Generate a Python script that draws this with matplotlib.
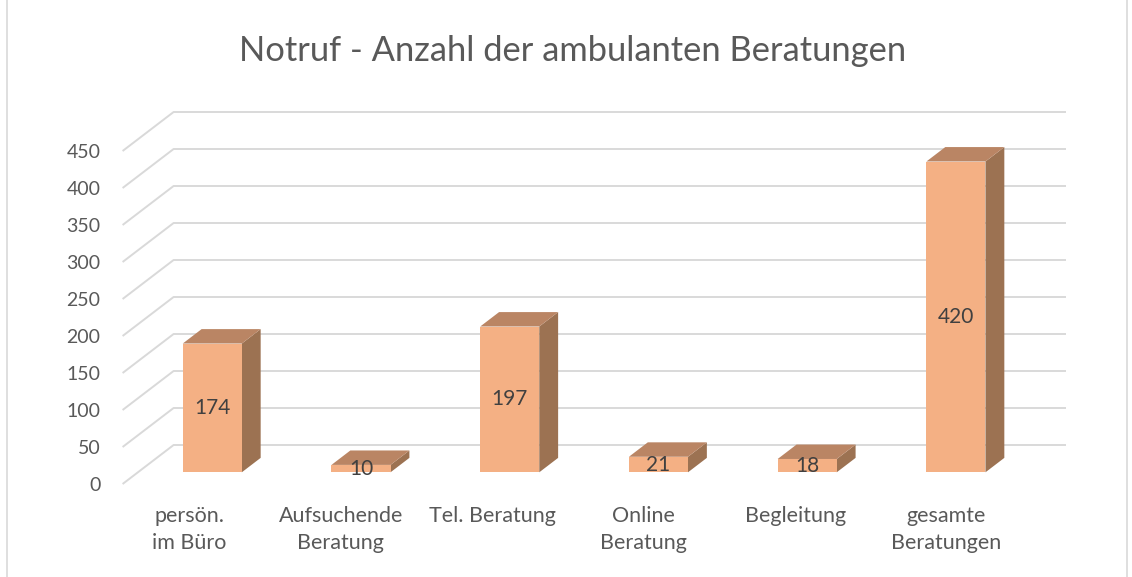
import matplotlib
matplotlib.use("Agg")
import matplotlib.pyplot as plt
from matplotlib.patches import Polygon, Rectangle

plt.rcParams["font.family"] = ["Lato", "DejaVu Sans"]

TITLE = "Notruf - Anzahl der ambulanten Beratungen"
categories = ["persön.\nim Büro", "Aufsuchende\nBeratung", "Tel. Beratung",
              "Online\nBeratung", "Begleitung", "gesamte\nBeratungen"]
values = [174, 10, 197, 21, 18, 420]
yticks = list(range(0, 451, 50))

FRONT = "#F4B084"
TOP = "#BA8564"
SIDE = "#9C7252"
GRID = "#D9D9D9"
TXT = "#595959"

W, H = 1132, 577
fig = plt.figure(figsize=(W / 100, H / 100), dpi=100)
# axes = front plane of the 3D box (pixel layout of the reference)
L, R, B, T = 122.6, 1015.0, 484.0, 151.0
ax = fig.add_axes([L / W, 1 - B / H, (R - L) / W, (B - T) / H])
ax.set_xlim(-0.5, len(values) - 0.5)
ax.set_ylim(0, 450)
ax.axis("off")

# depth of the floor/back wall, in data units
DX = 51 / ((R - L) / len(values))
DY = 39 / ((B - T) / 450)

# gridlines: diagonal on the side wall + horizontal on the back wall
for v in yticks:
    ax.plot([-0.5, -0.5 + DX, len(values) - 0.5 + DX], [v, v + DY, v + DY],
            color=GRID, lw=1.4, clip_on=False, zorder=1, solid_capstyle="butt")
    ax.text(-0.5 - 0.15, v - 2, str(v), ha="right", va="center",
            fontsize=14, color=TXT)

# bars as prisms
bw = 0.397
f0 = 0.30  # depth of the bar front face
d = 0.37   # bar depth fraction
lab_step = 151.4 / ((R - L) / len(values))
for i, v in enumerate(values):
    x0 = i - bw / 2 + f0 * DX
    x1 = i + bw / 2 + f0 * DX
    y0 = f0 * DY
    y1 = v + f0 * DY
    ddx, ddy = d * DX, d * DY
    ax.add_patch(Polygon([(x1, y0), (x1 + ddx, y0 + ddy), (x1 + ddx, y1 + ddy), (x1, y1)],
                         closed=True, facecolor=SIDE, edgecolor="none", zorder=3, clip_on=False))
    ax.add_patch(Polygon([(x0, y1), (x1, y1), (x1 + ddx, y1 + ddy), (x0 + ddx, y1 + ddy)],
                         closed=True, facecolor=TOP, edgecolor="none", zorder=3, clip_on=False))
    ax.add_patch(Rectangle((x0, y0), x1 - x0, y1 - y0, facecolor=FRONT,
                           edgecolor="none", zorder=4, clip_on=False))
    ax.text((x0 + x1) / 2, (y0 + y1) / 2, str(v), ha="center", va="center",
            fontsize=15, color="#404040", zorder=5)
    ax.text(i * lab_step - 0.05, -30, categories[i], ha="center", va="top",
            fontsize=15.5, color=TXT, linespacing=1.4)

fig.text(573 / W, 1 - 51 / H, TITLE, ha="center", va="center",
         fontsize=24.8, color=TXT)

# chart border
fig.add_artist(Rectangle((7 / W, -0.1), (1127 - 7) / W, 1.2 - 3 / H,
                         transform=fig.transFigure, fill=False,
                         edgecolor="#D9D9D9", lw=1.2))

fig.savefig("out.png", dpi=100)
